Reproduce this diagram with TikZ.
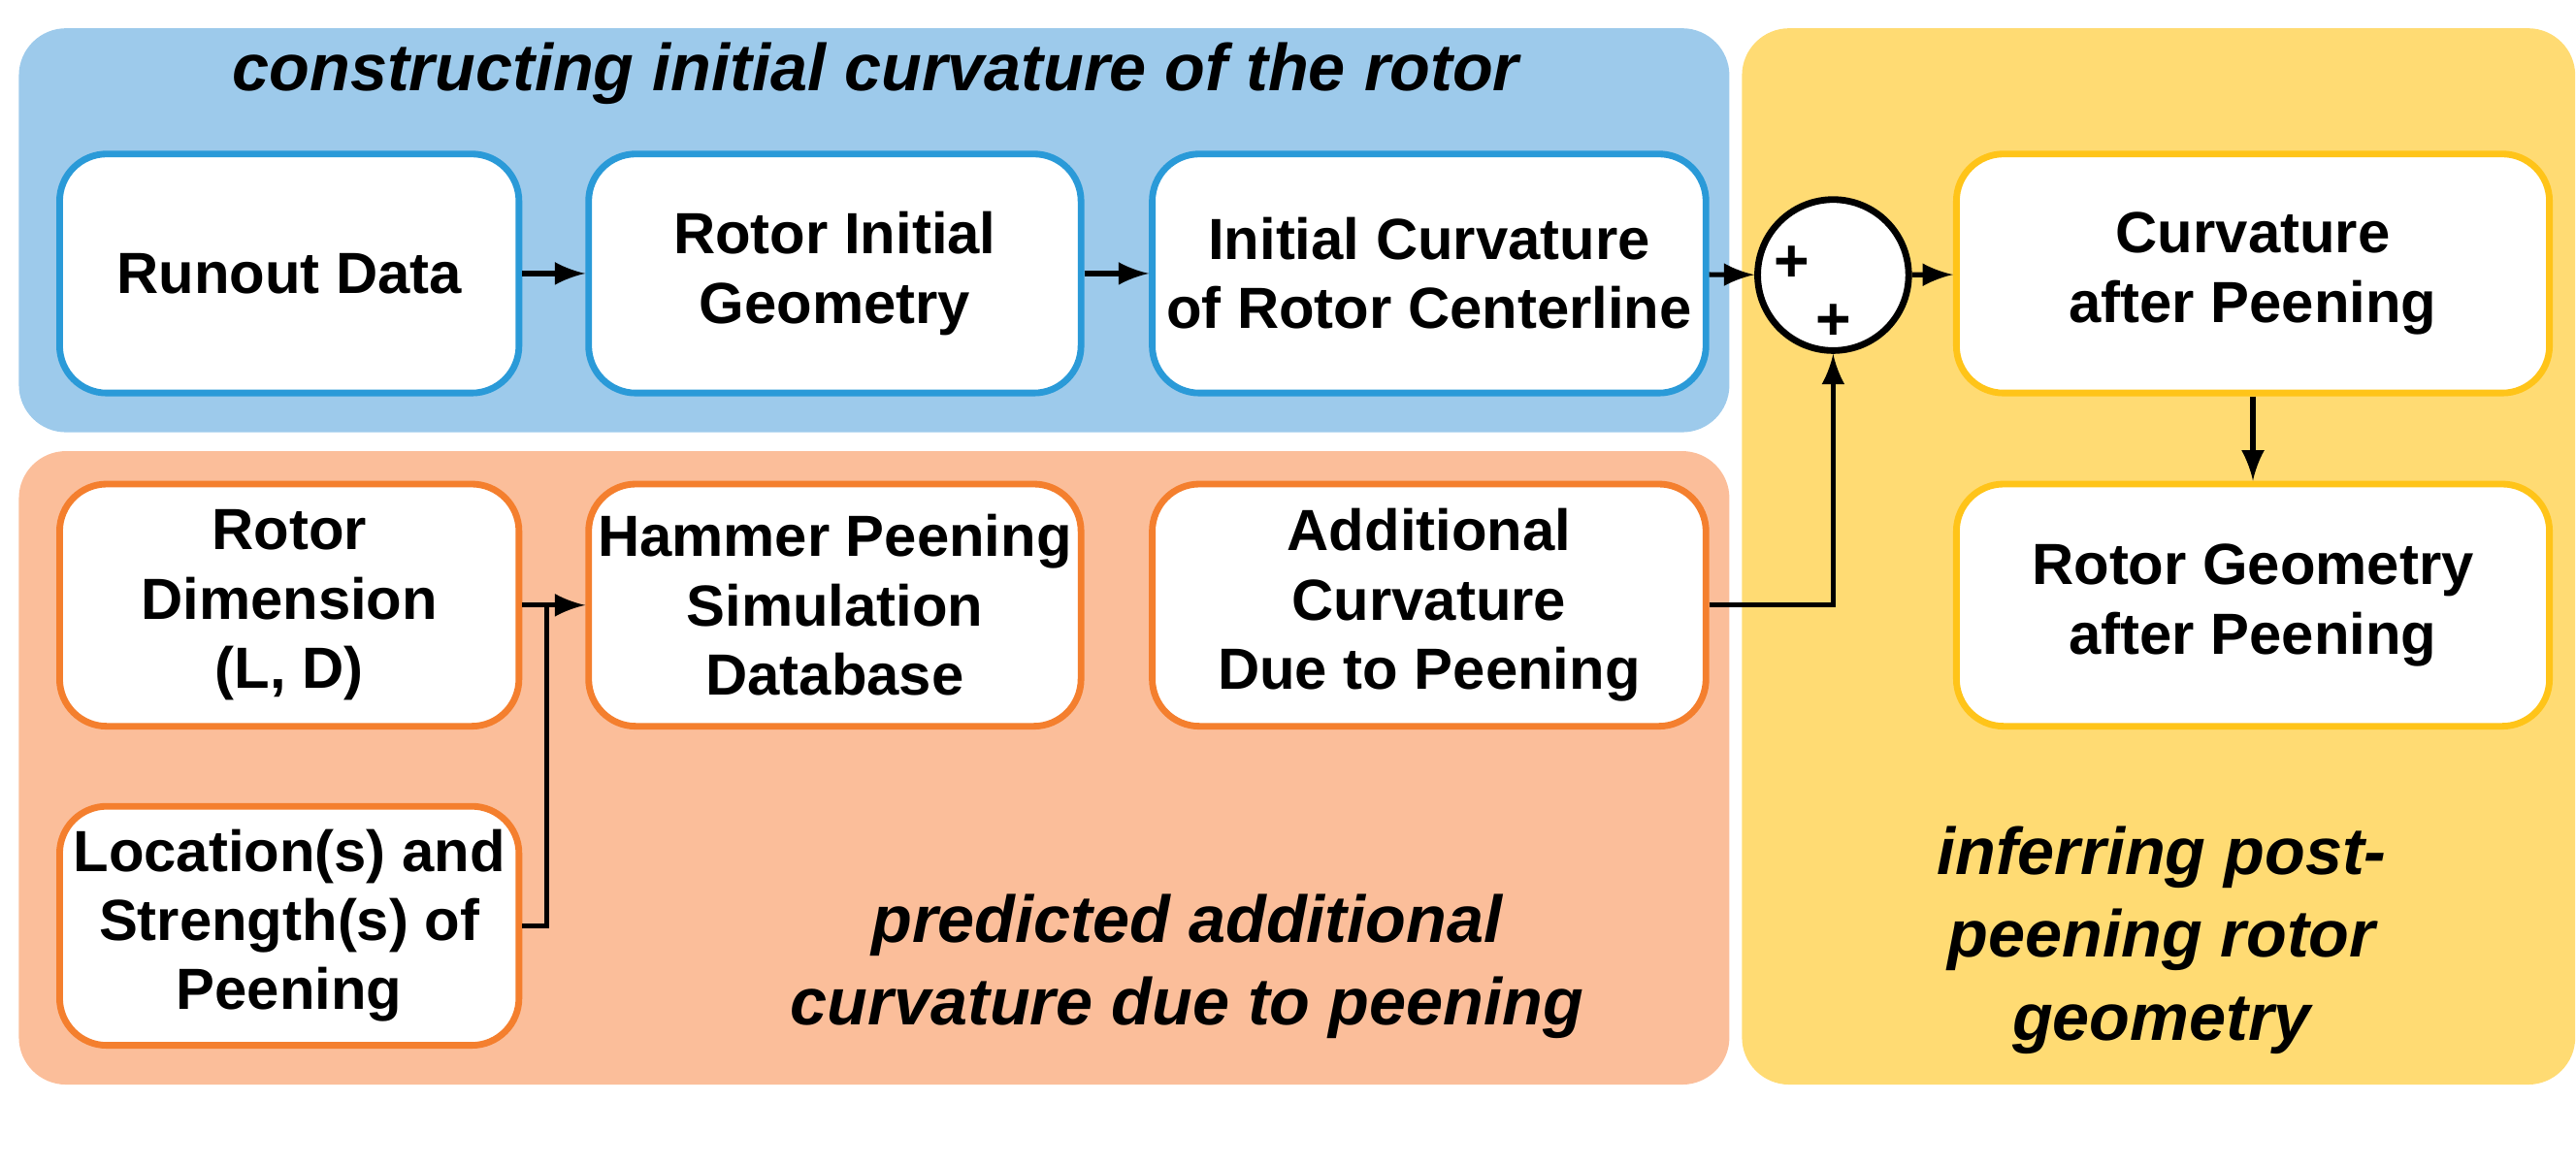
\documentclass[tikz,border=0pt]{standalone}
\usepackage{fontspec}
\setmainfont{Liberation Sans}
\begin{document}
\begin{tikzpicture}[x=0.01cm,y=-0.01cm,
 panel/.style={rounded corners=0.3cm},
 box/.style={draw,fill=white,line width=1.2pt,rounded corners=0.3cm,align=center,font=\fontsize{10.5}{12.5}\selectfont\bfseries,inner sep=0pt},
 ttl/.style={align=center,font=\fontsize{12}{15}\selectfont\bfseries\itshape},
 arr/.style={-latex,line width=0.9pt}]
\definecolor{bpan}{HTML}{9DCAEB}\definecolor{opan}{HTML}{FBBE9A}\definecolor{ypan}{HTML}{FFDB73}
\definecolor{bl}{HTML}{2A9AD8}\definecolor{or}{HTML}{F47F2E}\definecolor{ye}{HTML}{FFC419}
\path[use as bounding box] (0,0) rectangle (1638.5,741.8);
\fill[bpan,panel] (12,18) rectangle (1100,275);
\fill[opan,panel] (12,287) rectangle (1100,690);
\fill[ypan,panel] (1108,18) rectangle (1638,690);
\node[ttl] (t1) at (557,47) {constructing initial curvature of the rotor};
\node[ttl] (t2) at (755,615) {predicted additional\\curvature due to peening};
\node[ttl] (t3) at (1375,598) {inferring post-\\peening rotor\\geometry};
\tikzset{bb/.style={box,draw=bl},ob/.style={box,draw=or},yb/.style={box,draw=ye}}
\node[bb,minimum width=2.92cm,minimum height=1.52cm] (a) at (184,174) {Runout Data};
\node[bb,minimum width=3.13cm,minimum height=1.52cm] (b) at (531,174) {Rotor Initial\\Geometry};
\node[bb,minimum width=3.52cm,minimum height=1.52cm] (c) at (909,174) {Initial Curvature\\of Rotor Centerline};
\node[yb,minimum width=3.77cm,minimum height=1.52cm] (d) at (1433,174) {Curvature\\after Peening};
\node[yb,minimum width=3.77cm,minimum height=1.54cm] (e) at (1433,385) {Rotor Geometry\\after Peening};
\node[ob,minimum width=2.92cm,minimum height=1.54cm] (f) at (184,385) {Rotor\\Dimension\\(L, D)};
\node[ob,minimum width=3.13cm,minimum height=1.54cm] (g) at (531,385) {Hammer Peening\\Simulation\\Database};
\node[ob,minimum width=3.52cm,minimum height=1.54cm] (h) at (909,385) {Additional\\Curvature\\Due to Peening};
\node[ob,minimum width=2.92cm,minimum height=1.52cm] (i) at (184,589) {Location(s) and\\Strength(s) of\\Peening};
\node[draw,fill=white,circle,line width=1.2pt,minimum size=0.96cm] (s) at (1166,175) {};
\node[font=\bfseries\fontsize{11}{12}\selectfont] (p1) at (1140,168) {+};
\node[font=\bfseries\fontsize{11}{12}\selectfont] (p2) at (1166,205) {+};
\coordinate (j) at (348,385);
\draw[arr] (a) -- (b);
\draw[arr] (b) -- (c);
\draw[arr] (c) -- (s);
\draw[arr] (s) -- (d);
\draw[arr] (d) -- (e);
\draw[line width=0.9pt] (f) -- (j);
\draw[line width=0.9pt] (i.east) -| (j);
\draw[arr] (j) -- (g);
\draw[arr] (h.east) -| (s.south);
\end{tikzpicture}
\end{document}
